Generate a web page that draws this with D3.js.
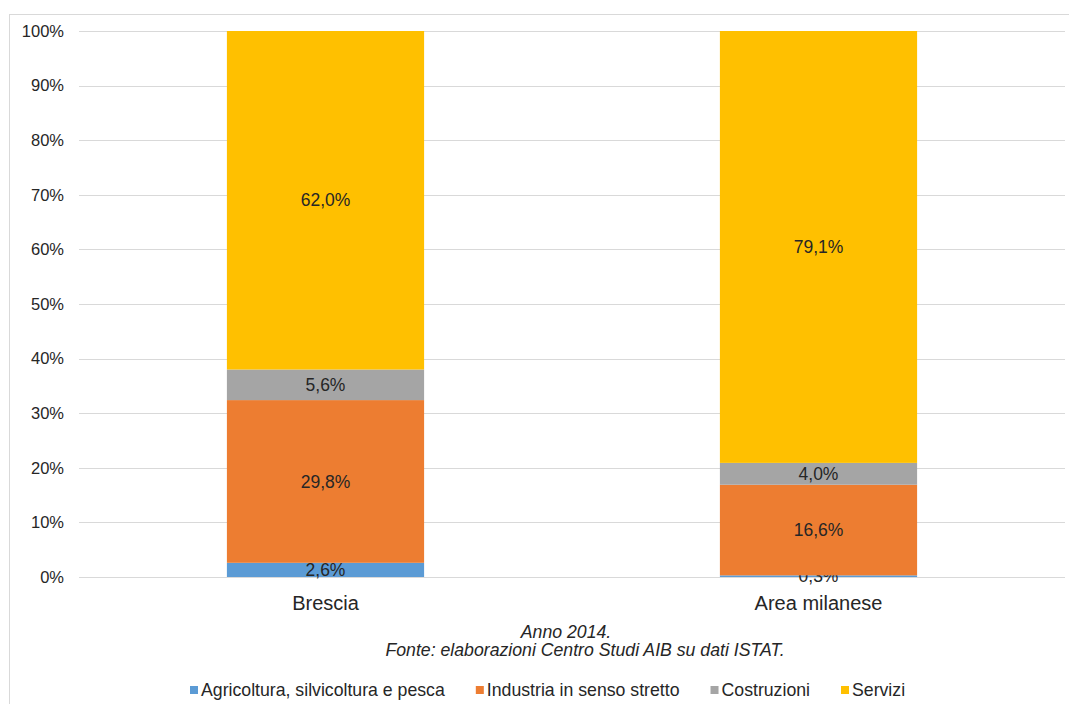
<!DOCTYPE html>
<html lang="it">
<head>
    <meta charset="UTF-8">
    <title>Occupati per settore</title>
    <script src="https://cdn.jsdelivr.net/npm/d3@7"></script>
    <style>
        body { margin: 0; background: #fff; }
        text { font-family: "Liberation Sans", Arial, sans-serif; fill: #262626; }
    </style>
</head>
<body>
    <div id="graph"></div>
    <script>
        // dati
        const aree = ["Brescia", "Area milanese"];
        const settori = ["Agricoltura, silvicoltura e pesca", "Industria in senso stretto", "Costruzioni", "Servizi"];
        const agricoltura = [2.6, 0.3];
        const industria = [29.8, 16.6];
        const costruzioni = [5.6, 4.0];
        const servizi = [62.0, 79.1];
        const yTicks = [0, 10, 20, 30, 40, 50, 60, 70, 80, 90, 100];
        const colori = ["#5B9BD5", "#ED7D31", "#A5A5A5", "#FFC000"];

        const data = aree.map((a, i) => ({
            area: a,
            [settori[0]]: agricoltura[i],
            [settori[1]]: industria[i],
            [settori[2]]: costruzioni[i],
            [settori[3]]: servizi[i]
        }));

        const W = 1069, H = 704;
        const mLeft = 79, mRight = 1065, mTop = 31, mBottom = 577;

        const svg = d3.select("#graph")
            .append("svg")
            .attr("width", W)
            .attr("height", H);

        // bordo
        svg.append("rect")
            .attr("x", 9.5).attr("y", 14.5)
            .attr("width", W + 10).attr("height", H + 10)
            .attr("fill", "none")
            .attr("stroke", "#d9d9d9");

        const x = d3.scaleBand()
            .domain(aree)
            .range([mLeft, mRight])
            .paddingInner(0.6)
            .paddingOuter(0.3);

        const y = d3.scaleLinear()
            .domain([0, 100])
            .range([mBottom, mTop]);

        // griglia
        svg.append("g")
            .selectAll("line")
            .data(yTicks)
            .join("line")
            .attr("x1", mLeft).attr("x2", mRight)
            .attr("y1", d => Math.round(y(d)) + 0.5)
            .attr("y2", d => Math.round(y(d)) + 0.5)
            .attr("stroke", "#d9d9d9");

        // asse Y
        const yAxis = svg.append("g")
            .attr("transform", `translate(${mLeft - 15},0)`)
            .call(d3.axisLeft(y).tickValues(yTicks).tickFormat(d => d + "%").tickSize(0).tickPadding(0));
        yAxis.select(".domain").remove();
        yAxis.selectAll("text").attr("font-size", 16.5).attr("fill", "#262626")
            .style("font-family", "Liberation Sans, Arial, sans-serif");

        // barre impilate
        const stack = d3.stack().keys(settori);
        const serie = stack(data);

        const gs = svg.append("g")
            .selectAll("g")
            .data(serie)
            .join("g")
            .attr("fill", (d, i) => colori[i]);

        gs.selectAll("rect")
            .data(d => d)
            .join("rect")
            .attr("x", d => x(d.data.area))
            .attr("y", d => y(d[1]))
            .attr("width", x.bandwidth())
            .attr("height", d => y(d[0]) - y(d[1]));

        // etichette
        gs.selectAll("text")
            .data(d => d)
            .join("text")
            .attr("x", d => x(d.data.area) + x.bandwidth() / 2)
            .attr("y", d => (y(d[0]) + y(d[1])) / 2)
            .attr("dy", "0.35em")
            .attr("text-anchor", "middle")
            .attr("font-size", 17.5)
            .text(d => (d[1] - d[0]).toFixed(1).replace(".", ",") + "%");

        // asse X
        const xAxis = svg.append("g")
            .attr("transform", `translate(0,${mBottom})`)
            .call(d3.axisBottom(x).tickSize(0).tickPadding(19));
        xAxis.select(".domain").remove();
        xAxis.selectAll("text").attr("font-size", 20).attr("fill", "#262626")
            .style("font-family", "Liberation Sans, Arial, sans-serif");

        // nota
        const nota = ["Anno 2014.", "Fonte: elaborazioni Centro Studi AIB su dati ISTAT."];
        const notaX = [566, 585];
        svg.append("g")
            .selectAll("text")
            .data(nota)
            .join("text")
            .attr("x", (d, i) => notaX[i])
            .attr("y", (d, i) => 638 + i * 18)
            .attr("text-anchor", "middle")
            .attr("font-size", 17.7)
            .attr("font-style", "italic")
            .text(d => d);

        // legenda
        const leg = svg.append("g").attr("transform", "translate(0,690)");
        let lx = 190;
        settori.forEach((s, i) => {
            const g = leg.append("g").attr("transform", `translate(${lx},0)`);
            g.append("rect").attr("x", 0).attr("y", -4).attr("width", 8).attr("height", 8).attr("fill", colori[i]);
            const t = g.append("text").attr("x", 11).attr("y", 0).attr("dy", "0.35em")
                .attr("font-size", 17.7).text(s);
            lx += 11 + t.node().getComputedTextLength() + 31;
        });
    </script>
</body>
</html>
